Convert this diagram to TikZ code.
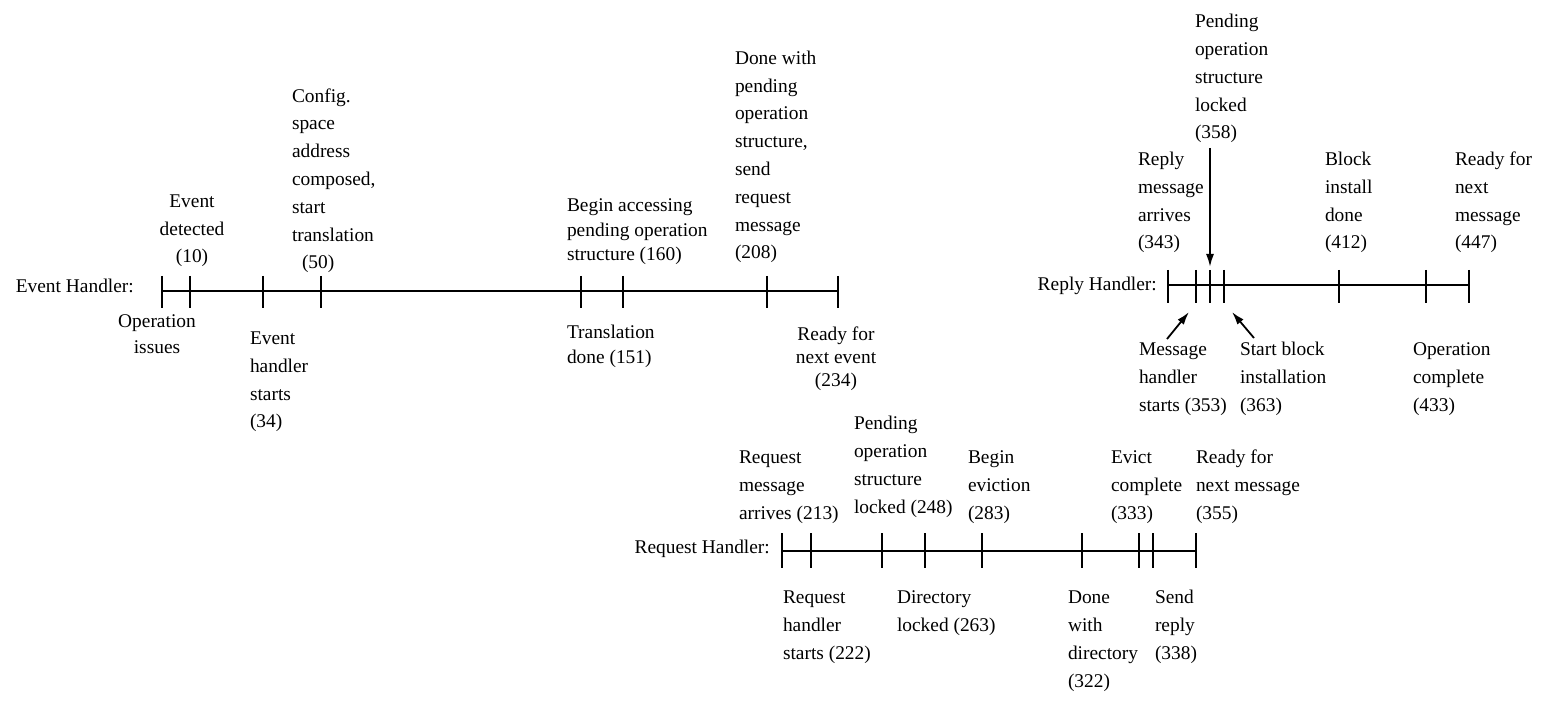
\documentclass[tikz,border=0pt]{standalone}
\usepackage{fontspec}
\setmainfont{Liberation Serif}
\usetikzlibrary{arrows.meta}

\begin{document}
\begin{tikzpicture}[x=1pt, y=-1pt,
  axis/.style={line width=2.9pt},
  tickmark/.style={line width=2.2pt},
  lbl/.style={inner sep=0pt, outer sep=0pt, align=left, font=\fontsize{19.4}{27.8}\selectfont},
  lblc/.style={lbl, align=center},
  hname/.style={inner sep=0pt, anchor=base east, font=\fontsize{19.4}{27.8}\selectfont},
  ptr/.style={line width=1.8pt, -{Latex[length=13pt,width=8pt]}}
]
\useasboundingbox (0,0) rectangle (1543,703);
% every label is placed by the baseline of its last line

% ---------------- Event handler ----------------
\coordinate (e0)   at (162,291);
\coordinate (e10)  at (190,291);
\coordinate (e34)  at (263,291);
\coordinate (e50)  at (321,291);
\coordinate (e151) at (581,291);
\coordinate (e160) at (623,291);
\coordinate (e208) at (767,291);
\coordinate (e234) at (838,291);

\node[hname] (evname) at (134,293) {Event Handler:};
\draw[axis] (e0) -- (e234);
\foreach \t in {e0,e10,e34,e50,e151,e160,e208,e234}
  \draw[tickmark] (\t) ++(0,-15) -- ++(0,32);

\node[lblc, anchor=base] (l10) at (192,263) {Event\\detected\\(10)};
\node[lbl, anchor=base west] (l50) at (292,269)
  {Config.\\space\\address\\composed,\\start\\translation\\\hspace*{10pt}(50)};
\node[lbl, anchor=base west, font=\fontsize{19.4}{24.5}\selectfont] (l160) at (567,261)
  {Begin accessing\\pending operation\\structure (160)};
\node[lbl, anchor=base west] (l208) at (735,259)
  {Done with\\pending\\operation\\structure,\\send\\request\\message\\(208)};

\node[lblc, anchor=base, font=\fontsize{19.4}{26}\selectfont] (l0) at (157,354) {Operation\\issues};
\node[lbl, anchor=base west] (l34) at (250,428) {Event\\handler\\starts\\(34)};
\node[lbl, anchor=base west, font=\fontsize{19.4}{25}\selectfont] (l151) at (567,364) {Translation\\done (151)};
\node[lblc, anchor=base, font=\fontsize{19.4}{23}\selectfont] (l234) at (836,387) {Ready for\\next event\\(234)};

% ---------------- Reply handler ----------------
\coordinate (r343) at (1168,285);
\coordinate (r353) at (1196,285);
\coordinate (r358) at (1210,285);
\coordinate (r363) at (1224,285);
\coordinate (r412) at (1339,285);
\coordinate (r433) at (1426,285);
\coordinate (r447) at (1469,285);

\node[hname] (rpname) at (1157,291) {Reply Handler:};
\draw[axis] (r343) -- (r447);
\foreach \t in {r343,r353,r358,r363,r412,r433,r447}
  \draw[tickmark] (\t) ++(0,-15) -- ++(0,33);

\node[lbl, anchor=base west] (l343) at (1138,249) {Reply\\message\\arrives\\(343)};
\node[lbl, anchor=base west] (l358) at (1195,139) {Pending\\operation\\structure\\locked\\(358)};
\node[lbl, anchor=base west] (l412) at (1325,249) {Block\\install\\done\\(412)};
\node[lbl, anchor=base west] (l447) at (1455,249) {Ready for\\next\\message\\(447)};

\node[lbl, anchor=base west] (l353) at (1139,411) {Message\\handler\\starts (353)};
\node[lbl, anchor=base west] (l363) at (1240,411) {Start block\\installation\\(363)};
\node[lbl, anchor=base west] (l433) at (1413,411) {Operation\\complete\\(433)};

% pointers for the crowded ticks
\coordinate (p358a) at (1210,148);
\coordinate (p358b) at (1210,267);
\coordinate (p353a) at (1167,339);
\coordinate (p353b) at (1189,312);
\coordinate (p363a) at (1254,338);
\coordinate (p363b) at (1232,312);
\draw[ptr] (p358a) -- (p358b);
\draw[ptr] (p353a) -- (p353b);
\draw[ptr] (p363a) -- (p363b);

% ---------------- Request handler ----------------
\coordinate (q213) at (782,551);
\coordinate (q222) at (811,551);
\coordinate (q248) at (882,551);
\coordinate (q263) at (925,551);
\coordinate (q283) at (982,551);
\coordinate (q322) at (1082,551);
\coordinate (q333) at (1139,551);
\coordinate (q338) at (1153,551);
\coordinate (q355) at (1196,551);

\node[hname] (rqname) at (770,553) {Request Handler:};
\draw[axis] (q213) -- (q355);
\foreach \t in {q213,q222,q248,q263,q283,q322,q333,q338,q355}
  \draw[tickmark] (\t) ++(0,-18) -- ++(0,35);

\node[lbl, anchor=base west] (l213) at (739,519) {Request\\message\\arrives (213)};
\node[lbl, anchor=base west] (l248) at (854,513) {Pending\\operation\\structure\\locked (248)};
\node[lbl, anchor=base west] (l283) at (968,519) {Begin\\eviction\\(283)};
\node[lbl, anchor=base west] (l333) at (1111,519) {Evict\\complete\\(333)};
\node[lbl, anchor=base west] (l355) at (1196,519) {Ready for\\next message\\(355)};

\node[lbl, anchor=base west] (l222) at (783,659) {Request\\handler\\starts (222)};
\node[lbl, anchor=base west] (l263) at (897,631) {Directory\\locked (263)};
\node[lbl, anchor=base west] (l322) at (1068,687) {Done\\with\\directory\\(322)};
\node[lbl, anchor=base west] (l338) at (1155,659) {Send\\reply\\(338)};

\end{tikzpicture}
\end{document}
